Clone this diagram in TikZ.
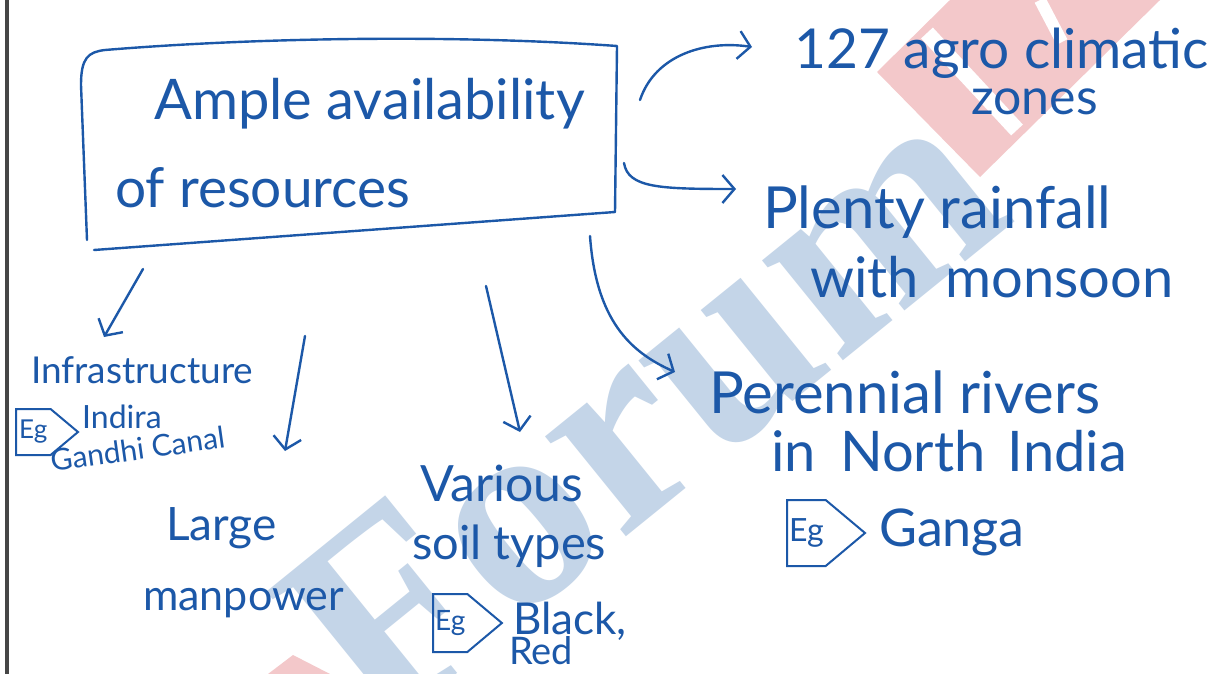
\documentclass[tikz,border=0pt]{standalone}
\usepackage{fontspec}
\setmainfont{Lato}
\newfontfamily\wmfont{Liberation Serif}
\usetikzlibrary{arrows.meta,shapes.symbols}
\definecolor{ink}{RGB}{28,88,168}
\definecolor{wmblue}{RGB}{196,213,232}
\definecolor{wmred}{RGB}{243,200,202}
\definecolor{edge}{RGB}{70,70,70}
\newcommand\fs[1]{\fontsize{#1}{#1}\selectfont}
\begin{document}
\begin{tikzpicture}[x=1pt,y=-1pt,
  hand/.style={text=ink, inner sep=0pt, anchor=base west},
  inkline/.style={draw=ink, line width=2.4pt, line cap=round, line join=round},
  arr/.style={inkline, -{Straight Barb[length=12pt,width=28pt]}},
  egbox/.style={draw=ink, line width=2pt, signal, signal to=east, signal pointer angle=80,
    text=ink, inner sep=2pt, anchor=west, font=\fs{26}}]
\useasboundingbox (0,0) rectangle (1209,674);
\fill[white] (0,0) rectangle (1209,674);
% watermark
\fill[wmred] (877,72) -- (950,0) -- (1160,0) -- (980,177) -- cycle;
\draw[white, line width=16pt] (927,33) -- (1017,130);
\draw[white, line width=12pt] (1040,0) -- (1062,42);
\fill[wmred] (268,674) -- (293,655) -- (330,674) -- cycle;
\node[rotate=39, text=wmblue, font=\wmfont\bfseries\fs{280}] (wm) at (642,408) {Forum};
% left edge
\draw[edge, line width=3.5pt] (7,0) -- (7,674);
% main box
\coordinate (bA) at (87,240);
\coordinate (bB) at (81,85);
\coordinate (bC) at (105,50);
\coordinate (bD) at (617,46);
\coordinate (bE) at (615,212);
\coordinate (bF) at (94,250);
\draw[inkline] (bA) -- (bB) .. controls (81,58) and (88,52) .. (bC)
  .. controls (250,38) and (450,34) .. (bD) -- (bE) -- (bF);
\node[hand, font=\fs{56}] (t1) at (154,120) {Ample availability};
\node[hand, font=\fs{55}] (t2) at (115,207) {of resources};
% right labels
\node[hand, font=\fs{55}] (z1) at (794,69) {127 agro climatic};
\node[hand, font=\fs{50}] (z2) at (971,114) {zones};
\node[hand, font=\fs{58}] (p1) at (763,228) {Plenty rainfall};
\node[hand, font=\fs{56}] (p2) at (810,297) {with\hspace{12pt} monsoon};
\node[hand, font=\fs{58}] (r1) at (709,413) {Perennial rivers};
\node[hand, font=\fs{56}] (r2) at (771,471) {in\hspace{10pt} North\hspace{8pt} India};
\node[egbox, minimum width=78pt, minimum height=66pt, font=\fs{32}] (eg1) at (786,533) {Eg};
\node[hand, font=\fs{52}] (r3) at (879,546) {Ganga};
% left labels
\node[hand, font=\fs{37}] (i1) at (31,383) {Infrastructure};
\node[egbox, minimum width=62pt, minimum height=46pt, font=\fs{26}] (eg2) at (15,432) {Eg};
\node[hand, font=\fs{32}] (i2) at (82,428) {Indira};
\node[hand, font=\fs{30}, rotate=8] (i3) at (52,472) {Gandhi Canal};
\node[hand, font=\fs{46}] (l1) at (166,540) {Large};
\node[hand, font=\fs{43}] (l2) at (143,610) {manpower};
% middle labels
\node[hand, font=\fs{50}] (v1) at (420,501) {Various};
\node[hand, font=\fs{47}] (v2) at (412,559) {soil types};
\node[egbox, minimum width=61pt, minimum height=58pt, font=\fs{28}] (eg3) at (432,623) {Eg};
\node[hand, font=\fs{44}] (v3) at (513,634) {Black,};
\node[hand, font=\fs{38}] (v4) at (509,664) {Red};
% connector ends
\coordinate (a1s) at (640,100);
\coordinate (a1e) at (752,47);
\coordinate (a2s) at (624,163);
\coordinate (a2e) at (736,189);
\coordinate (a3s) at (590,236);
\coordinate (a3e) at (675,372);
\coordinate (a4s) at (143,269);
\coordinate (a4e) at (104,337);
\coordinate (a5s) at (305,336);
\coordinate (a5e) at (285,451);
\coordinate (a6s) at (486,286);
\coordinate (a6e) at (520,432);
\draw[arr] (a1s) .. controls (655,55) and (705,40) .. (a1e);
\draw[arr] (a2s) .. controls (628,188) and (660,189) .. (a2e);
\draw[arr] (a3s) .. controls (596,320) and (630,352) .. (a3e);
\draw[arr] (a4s) -- (a4e);
\draw[arr] (a5s) -- (a5e);
\draw[arr] (a6s) -- (a6e);
\end{tikzpicture}
\end{document}
